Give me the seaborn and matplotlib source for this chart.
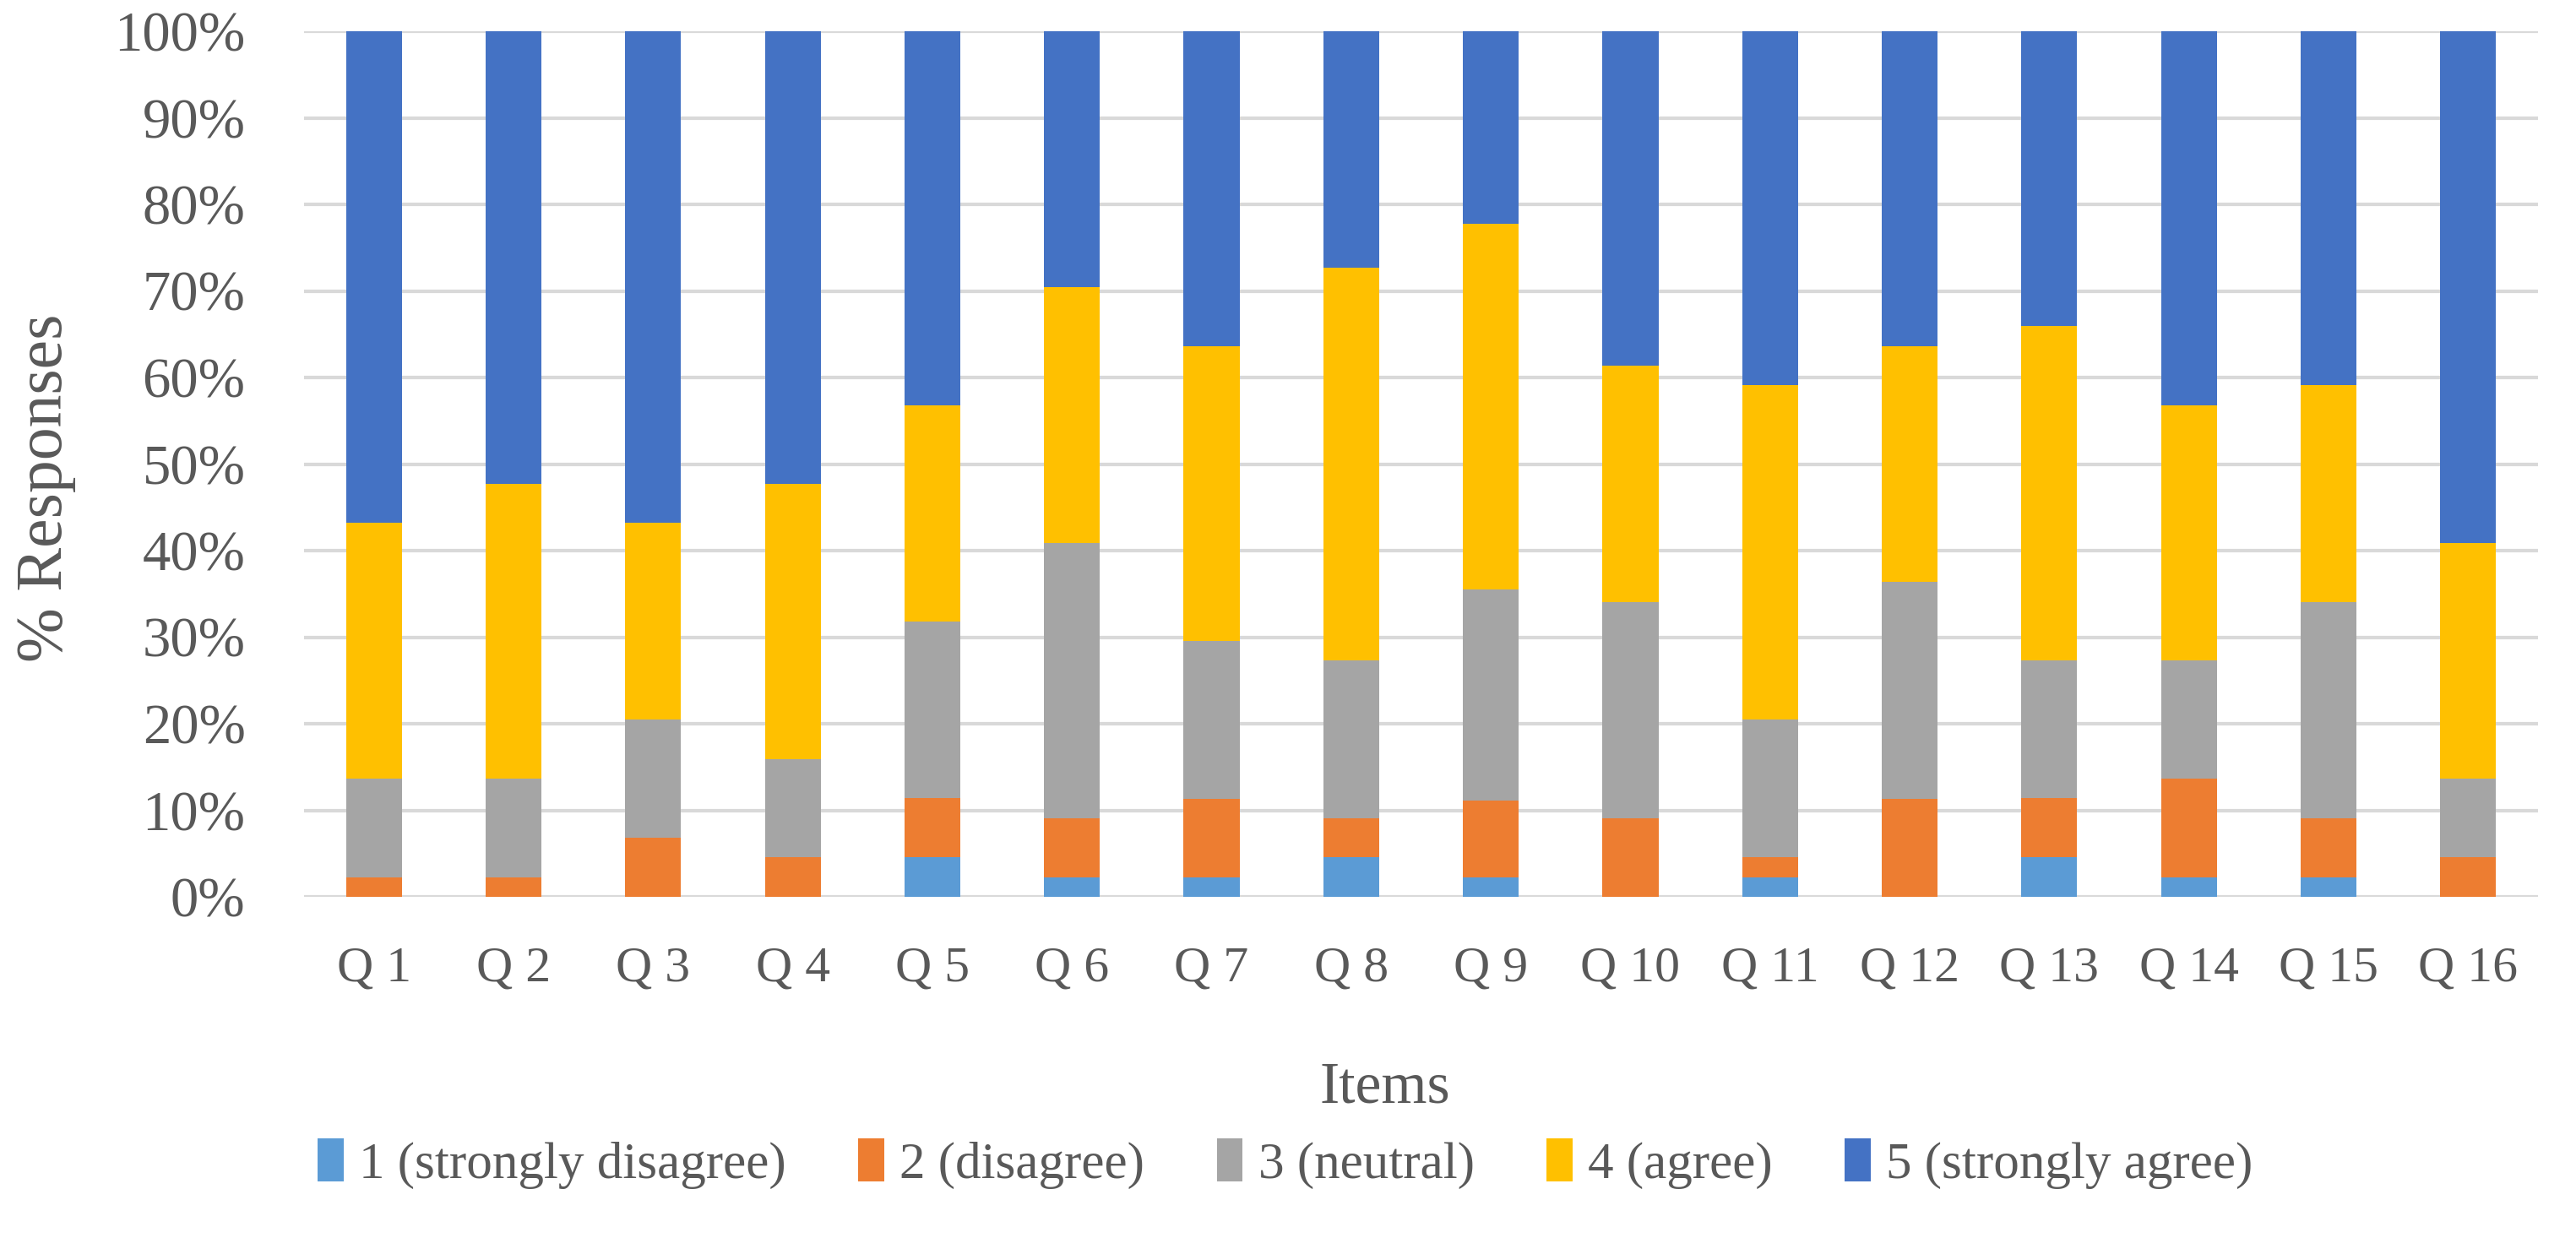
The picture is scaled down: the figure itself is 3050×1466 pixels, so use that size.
import numpy as np
import pandas as pd
import matplotlib
matplotlib.use("Agg")
import matplotlib.pyplot as plt
import seaborn as sns
from matplotlib.patches import Patch
from matplotlib.ticker import PercentFormatter

sns.set_theme(style="white")
plt.rcParams["font.family"] = ["Liberation Serif", "DejaVu Serif"]

ITEMS = [f"Q {i}" for i in range(1, 17)]
LEVELS = ["1 (strongly disagree)", "2 (disagree)", "3 (neutral)",
          "4 (agree)", "5 (strongly agree)"]
COLORS = ["#5B9BD5", "#ED7D31", "#A5A5A5", "#FFC000", "#4472C4"]

# % responses per item, one list per answer level
strongly_disagree = [0, 0, 0, 0, 4.55, 2.27, 2.27, 4.55, 2.22, 0, 2.27, 0, 4.55, 2.27, 2.27, 0]
disagree = [2.27, 2.27, 6.82, 4.55, 6.82, 6.82, 9.09, 4.55, 8.89, 9.09, 2.27, 11.36, 6.82, 11.36, 6.82, 4.55]
neutral = [11.36, 11.36, 13.64, 11.36, 20.45, 31.82, 18.18, 18.18, 24.44, 25.0, 15.91, 25.0, 15.91, 13.64, 25.0, 9.09]
agree = [29.55, 34.09, 22.73, 31.82, 25.0, 29.55, 34.09, 45.45, 42.22, 27.27, 38.64, 27.27, 38.64, 29.55, 25.0, 27.27]
strongly_agree = [56.82, 52.27, 56.82, 52.27, 43.18, 29.55, 36.36, 27.27, 22.22, 38.64, 40.91, 36.36, 34.09, 43.18, 40.91, 59.09]

df = pd.DataFrame({
    "item": ITEMS,
    LEVELS[0]: strongly_disagree,
    LEVELS[1]: disagree,
    LEVELS[2]: neutral,
    LEVELS[3]: agree,
    LEVELS[4]: strongly_agree,
})
cum = df[LEVELS].cumsum(axis=1)
cum["item"] = df["item"]

TXT = "#595959"

fig = plt.figure(figsize=(30.5, 14.66), dpi=100)
ax = fig.add_axes([360 / 3050, 1 - 1062 / 1466, 2645 / 3050, 1025 / 1466])

# stacked bars: draw cumulative totals from the top level down
for lev, col in zip(LEVELS[::-1], COLORS[::-1]):
    sns.barplot(data=cum, x="item", y=lev, color=col, width=0.4,
                saturation=1, ax=ax, zorder=3, linewidth=0)

ax.set_ylim(0, 100)
ax.set_xlim(-0.5, 15.5)
ax.set_yticks(np.arange(0, 101, 10))
ax.yaxis.set_major_formatter(PercentFormatter(decimals=0))
ax.grid(axis="y", color="#D9D9D9", linewidth=3, zorder=0)
ax.grid(axis="x", visible=False)
for s in ax.spines.values():
    s.set_visible(False)
ax.tick_params(axis="both", length=0, labelsize=43, colors=TXT)
ax.tick_params(axis="y", pad=50, labelsize=48)
ax.tick_params(axis="x", pad=42)

ax.set_xlabel("Items", fontsize=50, color=TXT)
ax.set_ylabel("% Responses", fontsize=56, color=TXT)
ax.xaxis.set_label_coords(0.484, -0.19)
ax.yaxis.set_label_coords(-0.102, 0.472)

handles = [Patch(facecolor=c, edgecolor="none") for c in COLORS]
fig.legend(handles, LEVELS, loc="center", bbox_to_anchor=(0.499, 0.06),
           ncol=5, frameon=False, fontsize=44, handlelength=0.5,
           handleheight=0.9, handletextpad=0.3, columnspacing=1.4,
           labelcolor=TXT)

fig.savefig("out.png", dpi=100)
